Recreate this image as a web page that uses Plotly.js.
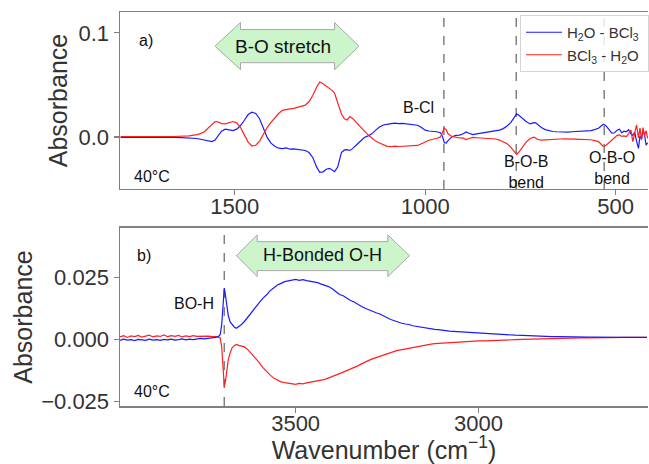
<!DOCTYPE html>
<html>
<head>
<meta charset="utf-8">
<script src="https://cdn.plot.ly/plotly-3.0.1.min.js"></script>
<style>html,body{margin:0;padding:0;overflow:hidden;background:#fff}</style>
</head>
<body>
<div id="chart" style="width:649px;height:464px"></div>
<script>
// ---------- DATA ----------
// Panel a) fingerprint region (cm^-1)
var wnA = [1800,1780,1760,1740,1720,1700,1680,1660,1640,1620,
  1600,1590,1580,1570,1560,1552,1545,1535,1525,1515,
  1505,1495,1485,1475,1465,1455,1445,1435,1425,1415,
  1405,1395,1385,1375,1365,1355,1345,1335,1325,1315,
  1305,1295,1285,1277,1268,1260,1251,1244,1238,1230,
  1220,1212,1205,1198,1190,1180,1170,1160,1150,1140,
  1130,1120,1110,1100,1090,1080,1070,1060,1050,1040,
  1030,1020,1010,1000,990,980,970,960,955,950,
  945,940,930,920,910,900,893,885,875,865,
  855,845,835,825,815,805,795,785,775,765,
  760,755,745,735,725,715,710,705,695,685,
  675,665,655,645,635,625,615,605,595,585,
  575,565,555,545,538,532,525,518,510,503,
  496,490,484,478,472,466,460,455,450,445,
  440,436,432,428,424,420,416];
var blueA = [-0.0005,-0.0004,-0.0005,-0.0004,-0.0005,-0.0004,-0.0005,-0.0004,-0.0006,-0.0009,
  -0.0015,-0.0022,-0.0030,-0.0042,-0.0045,-0.0030,0.0005,0.0055,0.0074,0.0068,
  0.0060,0.0075,0.0110,0.0160,0.0215,0.0238,0.0225,0.0175,0.0090,-0.0005,
  -0.0060,-0.0090,-0.0108,-0.0112,-0.0105,-0.0118,-0.0115,-0.0120,-0.0124,-0.0130,
  -0.0150,-0.0200,-0.0290,-0.0340,-0.0335,-0.0310,-0.0302,-0.0318,-0.0334,-0.0290,
  -0.0150,-0.0125,-0.0122,-0.0130,-0.0110,-0.0075,-0.0035,-0.0005,0.0010,0.0030,
  0.0065,0.0095,0.0115,0.0125,0.0128,0.0132,0.0127,0.0130,0.0126,0.0124,
  0.0120,0.0112,0.0090,0.0065,0.0057,0.0055,0.0050,0.0040,0.0010,-0.0055,
  -0.0060,-0.0035,0.0000,0.0015,0.0018,0.0030,0.0048,0.0035,0.0022,0.0030,
  0.0035,0.0040,0.0045,0.0050,0.0058,0.0065,0.0080,0.0105,0.0140,0.0200,
  0.0222,0.0210,0.0175,0.0148,0.0125,0.0138,0.0135,0.0118,0.0090,0.0070,
  0.0058,0.0052,0.0050,0.0048,0.0050,0.0047,0.0050,0.0052,0.0050,0.0055,
  0.0058,0.0060,0.0070,0.0084,0.0105,0.0122,0.0105,0.0070,0.0036,0.0040,
  0.0065,0.0074,0.0040,0.0055,0.0050,0.0070,0.0030,0.0015,0.0045,-0.0040,
  -0.0110,0.0010,-0.0020,0.0060,0.0020,-0.0080,-0.0055];
var redA = [0.0004,0.0003,0.0004,0.0003,0.0004,0.0003,0.0004,0.0004,0.0006,0.0010,
  0.0022,0.0032,0.0050,0.0085,0.0130,0.0148,0.0145,0.0128,0.0125,0.0135,
  0.0148,0.0135,0.0090,0.0020,-0.0050,-0.0087,-0.0080,-0.0040,0.0030,0.0090,
  0.0140,0.0185,0.0225,0.0255,0.0265,0.0270,0.0275,0.0285,0.0295,0.0305,
  0.0340,0.0400,0.0480,0.0527,0.0510,0.0488,0.0465,0.0445,0.0420,0.0330,
  0.0220,0.0175,0.0163,0.0196,0.0175,0.0135,0.0095,0.0055,0.0020,-0.0010,
  -0.0040,-0.0058,-0.0078,-0.0090,-0.0094,-0.0088,-0.0092,-0.0090,-0.0086,-0.0088,
  -0.0085,-0.0082,-0.0065,-0.0045,-0.0032,-0.0022,-0.0015,0.0000,0.0050,0.0084,
  0.0070,0.0030,0.0005,-0.0005,-0.0010,-0.0012,-0.0025,-0.0015,-0.0005,-0.0008,
  -0.0010,-0.0012,-0.0013,-0.0014,-0.0020,-0.0030,-0.0045,-0.0065,-0.0100,-0.0150,
  -0.0167,-0.0150,-0.0100,-0.0050,-0.0015,-0.0003,-0.0010,-0.0025,-0.0030,-0.0027,
  -0.0022,-0.0020,-0.0022,-0.0020,-0.0019,-0.0022,-0.0020,-0.0021,-0.0023,-0.0022,
  -0.0025,-0.0027,-0.0035,-0.0045,-0.0070,-0.0093,-0.0080,-0.0055,-0.0030,-0.0010,
  0.0015,0.0020,0.0005,0.0010,0.0003,0.0030,0.0067,-0.0045,0.0040,0.0116,
  -0.0010,0.0084,-0.0030,0.0090,0.0010,0.0060,-0.0013];

// Panel b) O-H region (cm^-1)
var wnB = [3980,3970,3960,3950,3940,3930,3920,3910,3900,3890,
  3880,3870,3860,3850,3840,3830,3820,3810,3800,3790,
  3780,3770,3760,3750,3740,3730,3720,3712,3706,3702,
  3698,3695,3692,3688,3684,3679,3674,3668,3662,3655,
  3648,3640,3630,3620,3610,3600,3590,3580,3570,3560,
  3550,3540,3530,3520,3510,3500,3490,3480,3470,3460,
  3450,3440,3430,3420,3410,3400,3390,3380,3370,3360,
  3350,3340,3330,3320,3310,3300,3290,3280,3270,3260,
  3250,3240,3230,3220,3210,3200,3190,3180,3170,3160,
  3150,3140,3130,3120,3110,3100,3090,3080,3070,3060,
  3050,3040,3030,3020,3010,3000,2980,2960,2940,2920,
  2900,2880,2860,2840,2820,2800,2780,2760,2740,2720,
  2700,2680,2660,2640,2620,2600,2580,2560,2540];
var blueB = [-0.0004,0.0001,-0.0003,-0.0001,-0.0005,0.0000,-0.0002,-0.0004,0.0001,-0.0003,
  -0.0001,-0.0004,0.0000,-0.0002,0.0001,-0.0003,-0.0001,0.0002,-0.0002,0.0001,
  -0.0001,0.0003,0.0004,0.0002,0.0005,0.0006,0.0008,0.0010,0.0020,0.0060,
  0.0150,0.0206,0.0180,0.0130,0.0095,0.0070,0.0060,0.0050,0.0045,0.0052,
  0.0060,0.0072,0.0090,0.0112,0.0128,0.0145,0.0165,0.0178,0.0195,0.0206,
  0.0218,0.0225,0.0232,0.0235,0.0238,0.0241,0.0237,0.0240,0.0236,0.0234,
  0.0230,0.0228,0.0222,0.0218,0.0212,0.0203,0.0192,0.0180,0.0175,0.0165,
  0.0156,0.0150,0.0140,0.0132,0.0125,0.0118,0.0112,0.0107,0.0102,0.0094,
  0.0088,0.0080,0.0075,0.0069,0.0065,0.0062,0.0060,0.0055,0.0052,0.0049,
  0.0047,0.0045,0.0042,0.0040,0.0039,0.0036,0.0035,0.0033,0.0032,0.0031,
  0.0030,0.0029,0.0028,0.0027,0.0026,0.0025,0.0024,0.0022,0.0020,0.0019,
  0.0017,0.0016,0.0014,0.0013,0.0012,0.0011,0.0011,0.0010,0.0010,0.0009,
  0.0009,0.0009,0.0008,0.0009,0.0008,0.0008,0.0008,0.0007,0.0008];
var redB = [0.0010,0.0015,0.0008,0.0014,0.0011,0.0016,0.0009,0.0013,0.0017,0.0010,
  0.0014,0.0012,0.0018,0.0011,0.0015,0.0012,0.0016,0.0010,0.0014,0.0011,
  0.0015,0.0012,0.0013,0.0011,0.0013,0.0012,0.0012,0.0011,0.0005,-0.0030,
  -0.0120,-0.0189,-0.0170,-0.0115,-0.0080,-0.0055,-0.0035,-0.0025,-0.0020,-0.0024,
  -0.0026,-0.0030,-0.0042,-0.0058,-0.0075,-0.0092,-0.0112,-0.0129,-0.0142,-0.0155,
  -0.0163,-0.0170,-0.0173,-0.0176,-0.0179,-0.0180,-0.0176,-0.0178,-0.0174,-0.0172,
  -0.0170,-0.0166,-0.0163,-0.0160,-0.0155,-0.0150,-0.0144,-0.0137,-0.0131,-0.0125,
  -0.0120,-0.0114,-0.0106,-0.0098,-0.0090,-0.0084,-0.0078,-0.0074,-0.0070,-0.0063,
  -0.0058,-0.0052,-0.0048,-0.0044,-0.0041,-0.0039,-0.0035,-0.0031,-0.0029,-0.0026,
  -0.0024,-0.0021,-0.0019,-0.0017,-0.0016,-0.0014,-0.0013,-0.0012,-0.0011,-0.0010,
  -0.0010,-0.0009,-0.0008,-0.0007,-0.0007,-0.0006,-0.0006,-0.0004,-0.0003,-0.0002,
  -0.0001,0.0000,0.0001,0.0002,0.0003,0.0004,0.0004,0.0005,0.0005,0.0006,
  0.0006,0.0007,0.0007,0.0007,0.0007,0.0008,0.0008,0.0008,0.0008];

var seriesNames = ['H<sub>2</sub>O - BCl<sub>3</sub>\u00a0', 'BCl<sub>3</sub> - H<sub>2</sub>O\u00a0'];
var bandLinesA = [951, 761, 530];
var bandLinesB = [3695];

// ---------- STYLE ----------
var FONT = 'Liberation Sans, Arial, Helvetica, sans-serif';
var BLUE = '#1a1aff', RED = '#ff2020', GRAY = '#808080', TXT = '#333333';

function arrowPath(xl, xhl, xhr, xr, yc, yht, ybt, ybb, yhb) {
  return 'M' + xl + ',' + yc + ' L' + xhl + ',' + yht + ' L' + xhl + ',' + ybt +
    ' L' + xhr + ',' + ybt + ' L' + xhr + ',' + yht + ' L' + xr + ',' + yc +
    ' L' + xhr + ',' + yhb + ' L' + xhr + ',' + ybb + ' L' + xhl + ',' + ybb +
    ' L' + xhl + ',' + yhb + ' Z';
}

var traces = [
  {x: wnA, y: blueA, xaxis: 'x', yaxis: 'y', mode: 'lines', name: seriesNames[0],
   line: {color: BLUE, width: 1.2}, legendgroup: 'b'},
  {x: wnA, y: redA, xaxis: 'x', yaxis: 'y', mode: 'lines', name: seriesNames[1],
   line: {color: RED, width: 1.2}, legendgroup: 'r'},
  {x: wnB, y: redB, xaxis: 'x2', yaxis: 'y2', mode: 'lines', name: seriesNames[1],
   line: {color: RED, width: 1.2}, showlegend: false, legendgroup: 'r'},
  {x: wnB, y: blueB, xaxis: 'x2', yaxis: 'y2', mode: 'lines', name: seriesNames[0],
   line: {color: BLUE, width: 1.2}, showlegend: false, legendgroup: 'b'}
];

var shapes = [];
bandLinesA.forEach(function (v) {
  shapes.push({type: 'line', xref: 'x', yref: 'y domain', x0: v, x1: v, y0: 0, y1: 1,
    line: {color: GRAY, width: 1.5, dash: 'dash'}, layer: 'below'});
});
bandLinesB.forEach(function (v) {
  shapes.push({type: 'line', xref: 'x2', yref: 'y2 domain', x0: v, x1: v, y0: 0, y1: 1,
    line: {color: GRAY, width: 1.5, dash: 'dash'}, layer: 'below'});
});
shapes.push({type: 'path', xref: 'x', yref: 'y',
  path: arrowPath(1552, 1485, 1238, 1174, 0.0872, 0.1099, 0.1031, 0.0713, 0.0646),
  fillcolor: '#ccf5cc', line: {color: '#a8a8a8', width: 1}});
shapes.push({type: 'path', xref: 'x2', yref: 'y2',
  path: arrowPath(3662, 3605, 3248, 3189, 0.0336, 0.0419, 0.0392, 0.0276, 0.0252),
  fillcolor: '#ccf5cc', line: {color: '#a8a8a8', width: 1}});

function ann(o) {
  var base = {showarrow: false, font: {family: FONT, size: 16, color: '#111'}};
  for (var k in o) base[k] = o[k];
  return base;
}
var annotations = [
  ann({text: 'B-O stretch', xref: 'x', yref: 'y', x: 1373, y: 0.0872, font: {family: FONT, size: 19, color: '#111'}}),
  ann({text: 'H-Bonded O-H', xref: 'x2', yref: 'y2', x: 3426, y: 0.0338, font: {family: FONT, size: 18, color: '#111'}}),
  ann({text: 'a)', xref: 'x domain', yref: 'y domain', x: 0.032, y: 0.838, xanchor: 'left', yanchor: 'middle'}),
  ann({text: '40°C', xref: 'x domain', yref: 'y domain', x: 0.022, y: 0.07, xanchor: 'left', yanchor: 'middle'}),
  ann({text: 'b)', xref: 'x2 domain', yref: 'y2 domain', x: 0.028, y: 0.846, xanchor: 'left', yanchor: 'middle'}),
  ann({text: '40°C', xref: 'x2 domain', yref: 'y2 domain', x: 0.022, y: 0.081, xanchor: 'left', yanchor: 'middle'}),
  ann({text: 'B-Cl', xref: 'x', yref: 'y', x: 1018, y: 0.028}),
  ann({text: 'B-O-B<br>bend', xref: 'x', yref: 'y', x: 735, y: -0.0335}),
  ann({text: 'O-B-O<br>bend', xref: 'x', yref: 'y', x: 509, y: -0.0297}),
  ann({text: 'BO-H', xref: 'x2', yref: 'y2', x: 3778, y: 0.0146})
];

var axisCommon = {
  showgrid: false, zeroline: false, showline: true, linecolor: GRAY, linewidth: 1.5,
  ticks: 'outside', ticklen: 5, tickwidth: 1.2, tickcolor: GRAY,
  tickfont: {family: FONT, size: 22, color: TXT}
};
function ax(o) { var b = {}; for (var k in axisCommon) b[k] = axisCommon[k]; for (var k2 in o) b[k2] = o[k2]; return b; }

var layout = {
  width: 649, height: 464,
  margin: {l: 120, r: 0, t: 12, b: 58},
  paper_bgcolor: '#fff', plot_bgcolor: '#fff',
  font: {family: FONT, color: TXT},
  showlegend: true,
  legend: {x: 0.758, y: 0.9924, xanchor: 'left', yanchor: 'top',
    bgcolor: 'rgba(255,255,255,0.82)', bordercolor: '#d4d4d4', borderwidth: 1, itemwidth: 36,
    font: {family: FONT, size: 15, color: TXT}, tracegroupgap: 0},
  xaxis: ax({domain: [0, 1], anchor: 'y', range: [1801.5, 415], tick0: 0, dtick: 500, mirror: true,
    ticklabelstandoff: -8}),
  yaxis: ax({domain: [0.5508, 1], anchor: 'x', range: [-0.05, 0.12], tick0: 0, dtick: 0.1, tickformat: '.1f',
    title: {text: 'Absorbance', font: {family: FONT, size: 25, color: TXT}, standoff: 3}}),
  xaxis2: ax({domain: [0, 1], anchor: 'y2', range: [3980, 2537], tick0: 0, dtick: 500, mirror: true,
    ticklabelstandoff: -8,
    title: {text: 'Wavenumber (cm<sup>−1</sup>)', font: {family: FONT, size: 25, color: TXT}, standoff: 16}}),
  yaxis2: ax({domain: [0, 0.4518], anchor: 'x2', range: [-0.0267, 0.0447], tickvals: [-0.025, 0, 0.025], tickformat: '.3f',
    title: {text: 'Absorbance', font: {family: FONT, size: 25, color: TXT}, standoff: 1}}),
  shapes: shapes,
  annotations: annotations
};

Plotly.newPlot('chart', traces, layout, {staticPlot: true, displayModeBar: false});
</script>
</body>
</html>
